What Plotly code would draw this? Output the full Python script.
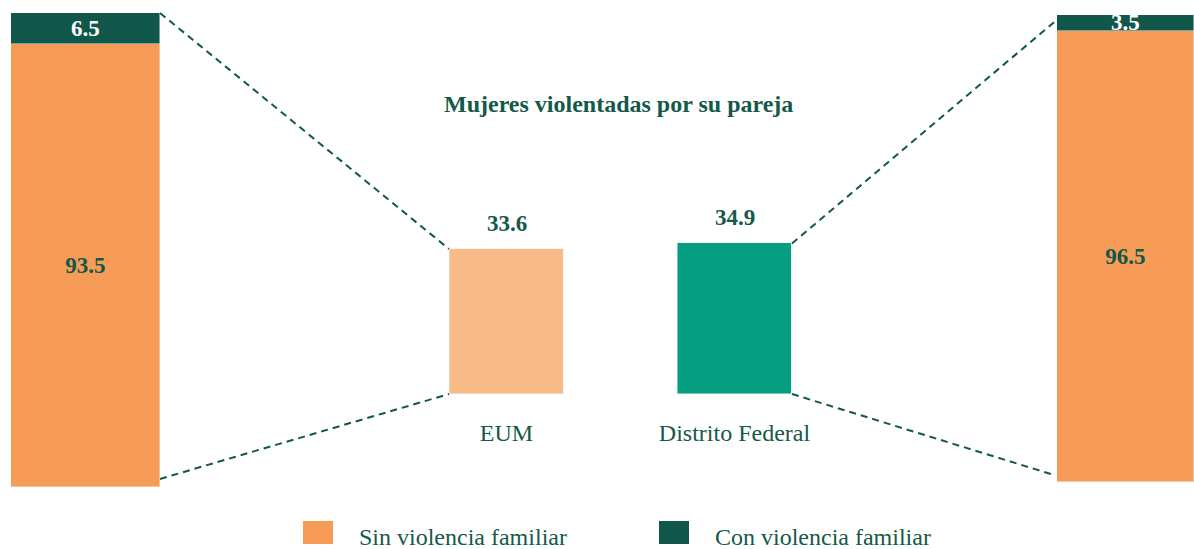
import plotly.graph_objects as go

# ---------------- data ----------------
series_names = ["Sin violencia familiar", "Con violencia familiar"]
eum_sin = [93.5]
eum_con = [6.5]
df_sin = [96.5]
df_con = [3.5]
center_categories = ["EUM", "Distrito Federal"]
center_values = [33.6, 34.9]
title_text = "Mujeres violentadas por su pareja"

# ---------------- styles ----------------
W, H = 1194, 549
FONT = "Liberation Serif"
ORANGE = "#F79C56"
DARK = "#12584A"
LIGHT_ORANGE = "#F9BB88"
TEAL = "#069E80"
TXT = "#15594A"


def px_x(x):
    return x / W


def px_y(y):
    return 1 - y / H


# axis domains (paper)
left_xdom = [px_x(11), px_x(160)]
left_ydom = [px_y(487), px_y(13)]
right_xdom = [px_x(1057), 1.0]
right_ydom = [px_y(482), px_y(15)]
center_xdom = [px_x(392.5), px_x(848.5)]
center_ydom = [px_y(394), px_y(13)]
center_yrange = [0, 88.3]
center_xrange = [-0.5, 1.5]
center_bar_width = 0.504

fig = go.Figure()


def stacked(xa, ya, vals, color, tcolor, name):
    return go.Bar(x=[0], y=vals, marker_color=color, width=1,
                  text=[f"{v}" for v in vals], textposition="inside",
                  insidetextanchor="middle", textangle=0, constraintext="none",
                  textfont=dict(family=FONT, size=23, color=tcolor, weight="bold"),
                  xaxis=xa, yaxis=ya, showlegend=False, name=name,
                  hoverinfo="skip")


# left stacked bar (EUM)
fig.add_trace(stacked("x", "y", eum_sin, ORANGE, DARK, series_names[0]))
fig.add_trace(stacked("x", "y", eum_con, DARK, "white", series_names[1]))
# right stacked bar (Distrito Federal)
fig.add_trace(stacked("x3", "y3", df_sin, ORANGE, DARK, series_names[0]))
fig.add_trace(stacked("x3", "y3", df_con, DARK, "white", series_names[1]))

# center bars
fig.add_trace(go.Bar(x=center_categories, y=center_values,
                     marker_color=[LIGHT_ORANGE, TEAL], width=center_bar_width,
                     xaxis="x2", yaxis="y2", showlegend=False, hoverinfo="skip"))

# value labels above center bars
annotations = []
for c, v in zip(center_categories, center_values):
    annotations.append(dict(x=c, y=v, xref="x2", yref="y2", text=f"<b>{v}</b>",
                            showarrow=False, yanchor="bottom", yshift=11,
                            font=dict(family=FONT, size=23, color=TXT)))

# title
annotations.append(dict(x=px_x(618), y=px_y(104), xref="paper", yref="paper",
                        text=f"<b>{title_text}</b>", showarrow=False,
                        xanchor="center", yanchor="middle",
                        font=dict(family=FONT, size=24, color=TXT)))


# connectors: helpers mapping data to paper coordinates
def lin(v, rng, dom):
    return dom[0] + (v - rng[0]) / (rng[1] - rng[0]) * (dom[1] - dom[0])


eum_left_x = lin(0 - center_bar_width / 2, center_xrange, center_xdom)
df_right_x = lin(1 + center_bar_width / 2, center_xrange, center_xdom)
eum_top_y = lin(center_values[0], center_yrange, center_ydom)
df_top_y = lin(center_values[1], center_yrange, center_ydom)
base_y = lin(0, center_yrange, center_ydom)

left_top = (left_xdom[1], lin(100, [0, 100], left_ydom))
left_bot = (left_xdom[1], lin(1.7, [0, 100], left_ydom))
right_top = (right_xdom[0], lin(99, [0, 100], right_ydom))
right_bot = (right_xdom[0] - px_x(3), lin(1.5, [0, 100], right_ydom))

shapes = []
line_style = dict(color=DARK, width=2, dash="7px,5px")
for (a, b) in [
    (left_top, (eum_left_x, eum_top_y)),
    (left_bot, (eum_left_x, base_y)),
    ((df_right_x, df_top_y), right_top),
    ((df_right_x, base_y), right_bot),
]:
    shapes.append(dict(type="line", xref="paper", yref="paper",
                       x0=a[0], y0=a[1], x1=b[0], y1=b[1], line=line_style,
                       layer="below"))

# manual legend
legend_colors = [ORANGE, DARK]
legend_x = [303, 659]
for name, col, lx in zip(series_names, legend_colors, legend_x):
    shapes.append(dict(type="rect", xref="paper", yref="paper",
                       x0=px_x(lx), x1=px_x(lx + 30), y0=px_y(544), y1=px_y(521),
                       fillcolor=col, line=dict(width=0)))
    annotations.append(dict(x=px_x(lx + 54), y=px_y(537), xref="paper", yref="paper",
                            text=name, showarrow=False, xanchor="left",
                            yanchor="middle",
                            font=dict(family=FONT, size=24, color=TXT)))

hidden = dict(showgrid=False, zeroline=False, showticklabels=False,
              showline=False, ticks="", fixedrange=True)

fig.update_layout(
    width=W, height=H, autosize=False,
    margin=dict(l=0, r=0, t=0, b=0, pad=0),
    paper_bgcolor="white", plot_bgcolor="rgba(0,0,0,0)",
    barmode="stack", bargap=0,
    showlegend=False,
    xaxis=dict(domain=left_xdom, range=[-0.5, 0.5], anchor="y", **hidden),
    yaxis=dict(domain=left_ydom, range=[0, 100], anchor="x", **hidden),
    xaxis2=dict(domain=center_xdom, range=center_xrange, anchor="y2",
                type="category", showgrid=False, zeroline=False, showline=False,
                ticks="", ticklabelstandoff=22,
                tickfont=dict(family=FONT, size=24, color=TXT), fixedrange=True),
    yaxis2=dict(domain=center_ydom, range=center_yrange, anchor="x2", **hidden),
    xaxis3=dict(domain=right_xdom, range=[-0.5, 0.5], anchor="y3", **hidden),
    yaxis3=dict(domain=right_ydom, range=[0, 100], anchor="x3", **hidden),
    shapes=shapes,
    annotations=annotations,
)

fig.write_html("out.html", config=dict(displayModeBar=False),
               post_script="document.body.style.margin='0';"
                           "document.body.style.overflow='hidden';")
